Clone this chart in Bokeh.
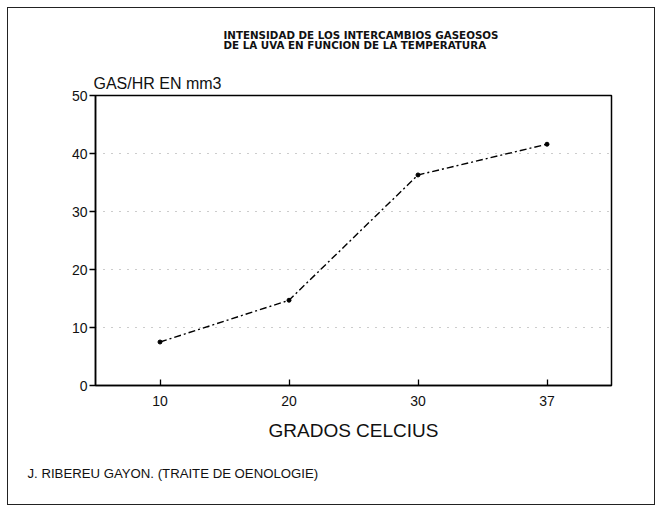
from bokeh.plotting import figure
from bokeh.models import FactorRange, Range1d, FixedTicker, Title
from bokeh.layouts import column
from bokeh.embed import file_html
from bokeh.resources import INLINE

categories = ["10", "20", "30", "37"]
gas_values = [7.5, 14.7, 36.3, 41.6]
y_ticks = [0, 10, 20, 30, 40, 50]

title_line1 = "INTENSIDAD DE LOS INTERCAMBIOS GASEOSOS"
title_line2 = "DE LA UVA EN FUNCION DE LA TEMPERATURA"
y_title = "GAS/HR EN mm3"
x_title = "GRADOS CELCIUS"
footnote = "J. RIBEREU GAYON. (TRAITE DE OENOLOGIE)"

FONT = "Liberation Sans"

p = figure(width=648, height=498, output_backend="svg", toolbar_location=None,
           x_range=FactorRange(factors=categories, range_padding=0),
           y_range=Range1d(0, 50),
           min_border_left=87, min_border_right=45, min_border_top=87, min_border_bottom=121,
           styles={"border": "1.5px solid #222"})

p.background_fill_color = "white"
p.border_fill_color = "white"
p.outline_line_color = "black"
p.outline_line_width = 1.5
p.outline_line_alpha = 1

p.line(categories, gas_values, line_color="black", line_width=1.4, line_dash="7 3 2 3")
p.scatter(categories, gas_values, size=4, color="black")

p.xgrid.grid_line_color = None
p.ygrid.grid_line_color = "#999999"
p.ygrid.grid_line_dash = "1 7"
p.ygrid.grid_line_width = 1

p.yaxis.ticker = FixedTicker(ticks=y_ticks)
p.yaxis.axis_line_color = "black"
p.yaxis.axis_line_width = 1.5
p.yaxis.major_tick_in = 0
p.yaxis.major_tick_out = 6
p.yaxis.major_tick_line_width = 1.3
p.yaxis.minor_tick_line_color = None
p.yaxis.major_label_standoff = 2
p.yaxis.major_label_text_font = FONT
p.yaxis.major_label_text_font_size = "14px"
p.yaxis.major_label_text_color = "#111"

p.xaxis.axis_line_color = "black"
p.xaxis.axis_line_width = 1.5
p.xaxis.major_tick_in = 6
p.xaxis.major_tick_out = 0
p.xaxis.major_tick_line_width = 1.3
p.xaxis.major_label_standoff = 10
p.xaxis.major_label_text_font = FONT
p.xaxis.major_label_text_font_size = "14px"
p.xaxis.major_label_text_color = "#111"
p.xaxis.axis_label = x_title
p.xaxis.axis_label_text_font = FONT
p.xaxis.axis_label_text_font_style = "normal"
p.xaxis.axis_label_text_font_size = "19px"
p.xaxis.axis_label_standoff = 11
p.xaxis.axis_label_text_color = "#111"

p.add_layout(Title(text=y_title, align="left", offset=-2, standoff=7,
                   text_font=FONT, text_font_size="16px", text_font_style="normal",
                   text_color="#111"), "above")
p.add_layout(Title(text=title_line1 + "\n" + title_line2, align="left", offset=128, standoff=37,
                   text_font="DejaVu Sans", text_font_size="10.3px", text_font_style="bold",
                   text_line_height=0.81, text_color="#111"), "above")
p.add_layout(Title(text=footnote, align="left", offset=-68, standoff=45, vertical_align="top",
                   text_font=FONT, text_font_size="13.2px", text_font_style="normal",
                   text_color="#111"), "below")

layout = column(p, styles={"padding-left": "7px", "padding-top": "7px"})

open("out.html", "w").write(file_html(layout, INLINE))
